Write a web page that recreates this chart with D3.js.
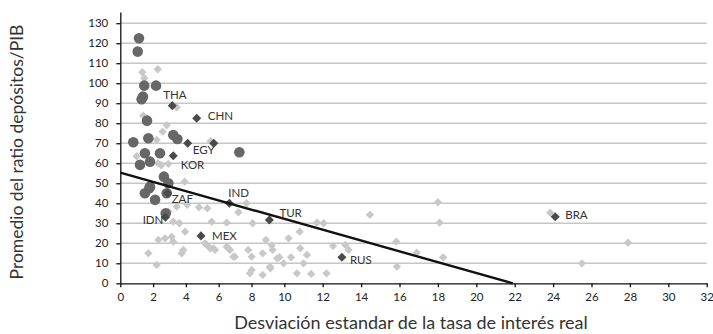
<!DOCTYPE html>
<html>
<head>
<meta charset="utf-8">
<script src="https://cdn.jsdelivr.net/npm/d3@7"></script>
<style>
  body { margin: 0; background: white; }
  svg { display: block; font-family: Lato, "Open Sans", sans-serif; }
</style>
</head>
<body>
<div id="chart"></div>
<script>
// gray circles
let circleX = [1.14, 1.06, 1.46, 2.18, 1.38, 1.3, 1.63, 0.79, 1.71, 3.23, 3.48, 1.5, 2.42, 7.26, 1.2, 1.81, 2.66, 2.93, 1.81, 1.5, 2.12, 2.83, 2.77, 1.77];
let circleY = [122.5, 115.8, 98.8, 98.8, 93.3, 92, 81.3, 70.5, 72.5, 74.1, 72.1, 65, 65, 65.5, 59.2, 60.8, 53.3, 50, 48.3, 45, 41.7, 45, 35, 47.5];

// light diamonds (other countries)
let lightX = [1.34, 2.28, 1.46, 3.44, 1.4, 2.83, 2.58, 2.22, 5.5, 1.0, 2.93, 2.3, 2.5, 3.92, 3.44, 2.93, 4.08, 4.8, 5.3, 5.57, 3.23, 3.6, 3.95, 2.73, 2.32, 3.13, 3.23, 3.84, 3.74, 1.71, 2.22, 5.16, 5.27, 5.47, 5.67, 5.77, 6.49, 6.59, 6.69, 6.89, 6.99, 6.49, 7.2, 7.7, 8.07, 7.8, 8.01, 8.01, 7.9, 8.68, 8.68, 8.88, 9.13, 9.29, 9.57, 9.15, 9.23, 9.7, 9.96, 10.35, 10.22, 10.8, 10.83, 11, 11.18, 10.66, 11.4, 12.2, 11.7, 12.05, 12.54, 13.18, 13.35, 14.46, 15.83, 15.87, 16.9, 18.0, 18.09, 18.27, 23.85, 25.5, 27.9];
let lightY = [105.5, 107, 102.5, 88, 83.8, 79, 75.8, 71.7, 71, 63.5, 59.7, 60, 59, 50.8, 38.3, 35.8, 39.2, 38, 37.5, 30.8, 30.8, 30, 25.8, 22.5, 21.7, 23.3, 20.8, 16.7, 15, 15, 9.2, 20, 19.2, 17.5, 17.5, 16.7, 18.3, 17.5, 16.7, 13.3, 13.3, 30.3, 35.5, 40, 30, 16.7, 13.3, 6.7, 5, 4.2, 15, 21.7, 8.3, 16.7, 12.5, 7.5, 19, 13, 10, 13, 22.5, 25.8, 17.5, 10, 14.2, 5, 4.7, 5, 30.3, 30, 18.7, 19.2, 16.7, 34.2, 20.8, 8.3, 15.3, 40.5, 30.3, 13, 35.3, 10, 20.3];

// dark diamonds (labelled countries)
let countryNames = ["THA", "CHN", "EGY", "", "KOR", "IND", "ZAF", "IDN", "MEX", "TUR", "RUS", "BRA"];
let countryX = [3.17, 4.66, 4.11, 5.7, 3.23, 6.65, 2.89, 2.75, 4.92, 9.09, 13.0, 24.11];
let countryY = [88.8, 82.5, 70, 70, 63.8, 40, 45, 33, 23.7, 31.7, 13, 33.3];

// regression line end points
let fitX = [0, 21.9];
let fitY = [55.3, 0];

let xTicks = d3.range(0, 33, 2);

// label offsets from the marker (px)
let labelOffset = {
  THA: [-9, -10.5], CHN: [11, -2.5], EGY: [5, 7], KOR: [7.5, 9.5], IND: [-1, -10],
  ZAF: [4, 6], IDN: [-2, 3, 'end'], MEX: [11, 0], TUR: [10, -6.5], RUS: [8, 3], BRA: [10, -1.5]
};

let W = 713, H = 334;
let svg = d3.select('#chart').append('svg')
  .attr('width', W).attr('height', H);

// the picture's x axis is a bit tighter between 0 and 10
let x = d3.scaleLinear().domain([0, 10, 32]).range([120.3, 284.3, 706.7]);
let y = d3.scaleLinear().domain([0, 135.6]).range([283.3, 12]);

// gridlines
svg.append('g')
  .selectAll('line')
  .data(d3.range(10, 131, 10))
  .join('line')
  .attr('x1', x(0)).attr('x2', x(32))
  .attr('y1', d => y(d)).attr('y2', d => y(d))
  .attr('stroke', '#c6c6c6')
  .attr('stroke-width', 1.5);

let yAxis = svg.append('g')
  .attr('transform', `translate(${x(0)},0)`)
  .call(d3.axisLeft(y).tickValues(d3.range(0, 131, 10)).tickSize(4).tickPadding(8).tickSizeOuter(0));

let xAxis = svg.append('g')
  .attr('transform', `translate(0,${y(0)})`)
  .call(d3.axisBottom(x).tickValues(xTicks).tickSize(4).tickPadding(6).tickSizeOuter(0));

[xAxis, yAxis].forEach(a => {
  a.selectAll('path, line').attr('stroke', '#111').attr('stroke-width', 1.3);
  a.selectAll('text').attr('font-size', 11.5).attr('fill', '#222')
    .attr('font-family', 'Lato, "Open Sans", sans-serif');
});

let diamond = d3.symbol().type(d3.symbolDiamond2);

// light diamonds
svg.append('g')
  .selectAll('path')
  .data(d3.zip(lightX, lightY))
  .join('path')
  .attr('d', diamond.size(44)())
  .attr('transform', d => `translate(${x(d[0])},${y(d[1])})`)
  .attr('fill', '#c8c8c8');

// circles
svg.append('g')
  .selectAll('circle')
  .data(d3.zip(circleX, circleY))
  .join('circle')
  .attr('cx', d => x(d[0]))
  .attr('cy', d => y(d[1]))
  .attr('r', 5.3)
  .attr('fill', '#676767');

// dark diamonds
let countries = countryNames.map((n, i) => ({ name: n, x: countryX[i], y: countryY[i] }));
svg.append('g')
  .selectAll('path')
  .data(countries)
  .join('path')
  .attr('d', diamond.size(52)())
  .attr('transform', d => `translate(${x(d.x)},${y(d.y)})`)
  .attr('fill', '#4a4a4a');

// regression line
svg.append('path')
  .datum(d3.zip(fitX, fitY))
  .attr('d', d3.line().x(d => x(d[0])).y(d => y(d[1])))
  .attr('fill', 'none')
  .attr('stroke', '#111')
  .attr('stroke-width', 2.4);

// country labels
svg.append('g')
  .selectAll('text')
  .data(countries.filter(d => d.name))
  .join('text')
  .attr('x', d => x(d.x) + labelOffset[d.name][0])
  .attr('y', d => y(d.y) + labelOffset[d.name][1])
  .attr('dy', '0.35em')
  .attr('text-anchor', d => labelOffset[d.name][2] || 'start')
  .attr('font-size', 11.5)
  .attr('fill', '#333')
  .text(d => d.name);

// axis titles
svg.append('text')
  .attr('transform', 'translate(23,152) rotate(-90)')
  .attr('text-anchor', 'middle')
  .attr('font-size', 17.5)
  .attr('fill', '#333')
  .text('Promedio del ratio depósitos/PIB');

svg.append('text')
  .attr('x', 411).attr('y', 329)
  .attr('text-anchor', 'middle')
  .attr('font-size', 18)
  .attr('fill', '#333')
  .text('Desviación estandar de la tasa de interés real');
</script>
</body>
</html>
